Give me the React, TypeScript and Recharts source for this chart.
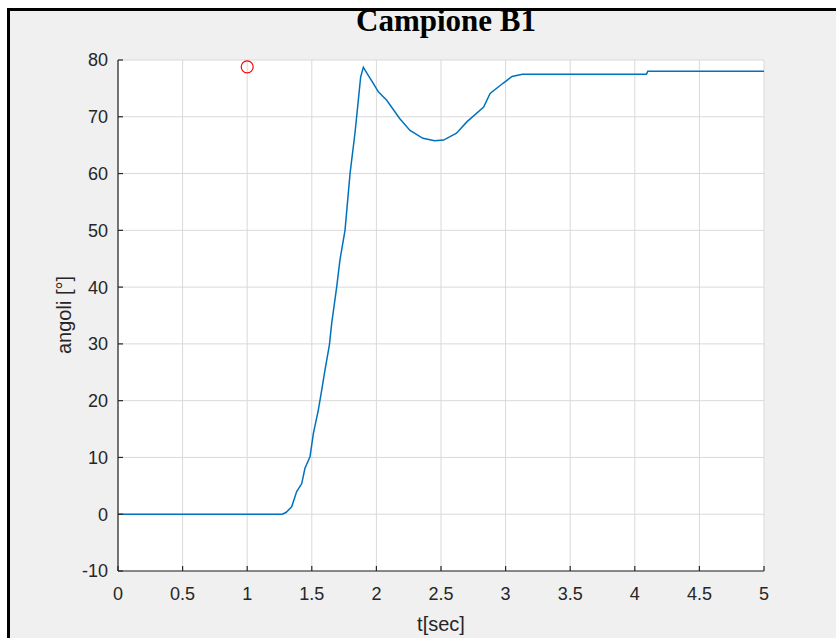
import React from "react";
import {
  ComposedChart,
  Line,
  Scatter,
  XAxis,
  YAxis,
  CartesianGrid,
  Label,
} from "recharts";

// time [s]
const time = [
  0, 1.27, 1.3, 1.344, 1.383, 1.422, 1.447, 1.486, 1.512, 1.55, 1.577, 1.602,
  1.636, 1.654, 1.693, 1.718, 1.757, 1.796, 1.834, 1.86, 1.878, 1.899, 1.937,
  1.976, 2.015, 2.08, 2.18, 2.26, 2.36, 2.45, 2.52, 2.62, 2.7, 2.83, 2.88,
  2.98, 3.05, 3.13, 4.09, 4.1, 5.0,
];
// angle [deg]
const angle = [
  0, 0, 0.3, 1.3, 4.0, 5.4, 8.1, 10.1, 14.2, 18.3, 21.9, 25.4, 29.8, 33.6,
  40.1, 44.8, 50.0, 60.0, 67.1, 72.9, 77.0, 78.7, 77.3, 75.9, 74.4, 72.9, 69.7,
  67.6, 66.2, 65.8, 65.9, 67.1, 69.1, 71.7, 74.1, 75.9, 77.1, 77.5, 77.5, 78.0,
  78.0,
];
// red marker
const markerTime = [1];
const markerAngle = [78.8];

const xTicks = [0, 0.5, 1, 1.5, 2, 2.5, 3, 3.5, 4, 4.5, 5];
const yTicks = [-10, 0, 10, 20, 30, 40, 50, 60, 70, 80];

const titleText = "Campione B1";
const xLabel = "t[sec]";
const yLabel = "angoli [°]";

const lineData = time.map((t, i) => ({ t, v: angle[i] }));
const markerData = markerTime.map((t, i) => ({ t, v: markerAngle[i] }));

const AX = "#262626";
const tickFont = { fontFamily: "Liberation Sans, Arial, sans-serif", fontSize: 18, fill: AX };

export default function App() {
  return (
    <div
      style={{
        position: "absolute",
        left: 0,
        top: 0,
        width: 836,
        height: 638,
        background: "#fff",
        overflow: "hidden",
      }}
    >
      <div
        style={{
          position: "absolute",
          left: 7,
          top: 8,
          width: 860,
          height: 660,
          background: "#f0f0f0",
          borderLeft: "3px solid #000",
          borderTop: "3px solid #000",
        }}
      />
      <div style={{ position: "absolute", left: 0, top: 0 }}>
        <ComposedChart
          width={836}
          height={638}
          margin={{ top: 60, right: 72, bottom: 27, left: 58 }}
        >
          <CartesianGrid stroke="#d9d9d9" strokeWidth={1} fill="#ffffff" />
          <XAxis
            xAxisId={0}
            dataKey="t"
            type="number"
            domain={[0, 5]}
            ticks={xTicks}
            interval={0}
            allowDataOverflow
            height={40}
            tickSize={-5}
            tickMargin={21}
            axisLine={{ stroke: AX, strokeWidth: 1.2 }}
            tickLine={{ stroke: AX, strokeWidth: 1.2 }}
            tick={tickFont}
          >
            <Label
              content={() => (
                <text
                  x={441}
                  y={631}
                  textAnchor="middle"
                  fontFamily="Liberation Sans, Arial, sans-serif"
                  fontSize={20}
                  fill={AX}
                >
                  {xLabel}
                </text>
              )}
            />
          </XAxis>
          <XAxis
            xAxisId="top"
            orientation="top"
            dataKey="t"
            type="number"
            domain={[0, 5]}
            ticks={xTicks}
            interval={0}
            allowDataOverflow
            height={0}
            tickSize={-5}
            tick={false}
            axisLine={{ stroke: AX, strokeWidth: 1.2 }}
            tickLine={{ stroke: AX, strokeWidth: 1.2 }}
          />
          <YAxis
            yAxisId={0}
            type="number"
            domain={[-10, 80]}
            ticks={yTicks}
            interval={0}
            allowDataOverflow
            width={60}
            tickSize={-5}
            tickMargin={15}
            axisLine={{ stroke: AX, strokeWidth: 1.2 }}
            tickLine={{ stroke: AX, strokeWidth: 1.2 }}
            tick={tickFont}
          >
            <Label
              content={() => (
                <text
                  x={71}
                  y={315}
                  transform="rotate(-90 71 315)"
                  textAnchor="middle"
                  fontFamily="Liberation Sans, Arial, sans-serif"
                  fontSize={20}
                  fill={AX}
                >
                  {yLabel}
                </text>
              )}
            />
          </YAxis>
          <YAxis
            yAxisId="right"
            orientation="right"
            type="number"
            domain={[-10, 80]}
            ticks={yTicks}
            interval={0}
            allowDataOverflow
            width={0}
            tickSize={-5}
            tick={false}
            axisLine={{ stroke: AX, strokeWidth: 1.2 }}
            tickLine={{ stroke: AX, strokeWidth: 1.2 }}
          />
          <Line
            data={lineData}
            dataKey="v"
            xAxisId={0}
            yAxisId={0}
            type="linear"
            stroke="#0072BD"
            strokeWidth={1.5}
            dot={false}
            isAnimationActive={false}
          />
          <Scatter
            data={markerData}
            dataKey="v"
            xAxisId={0}
            yAxisId={0}
            isAnimationActive={false}
            shape={(p: any) => (
              <circle cx={p.cx} cy={p.cy} r={6} fill="none" stroke="#ff0000" strokeWidth={1.2} />
            )}
          />
        </ComposedChart>
      </div>
      <svg
        width={836}
        height={60}
        style={{ position: "absolute", left: 0, top: 0, overflow: "visible" }}
      >
        <text
          x={446}
          y={31}
          textAnchor="middle"
          fontFamily="Liberation Serif, Times New Roman, serif"
          fontWeight="bold"
          fontSize={31}
          fill="#000"
        >
          {titleText}
        </text>
      </svg>
    </div>
  );
}
